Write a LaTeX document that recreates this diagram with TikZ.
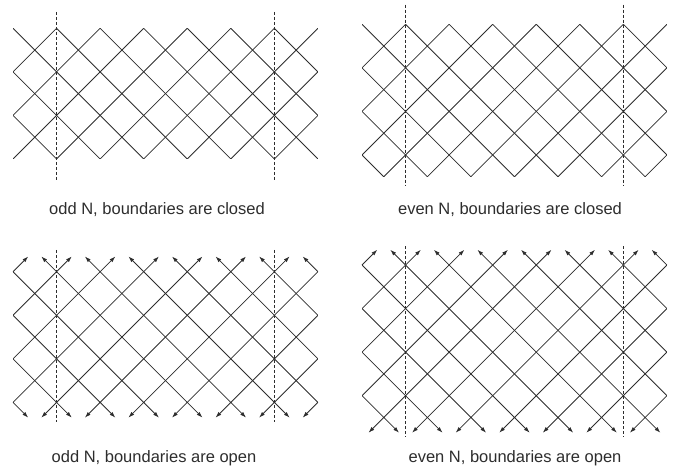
\documentclass[tikz,border=0pt]{standalone}
\usepackage{fontspec}
\setmainfont{Liberation Sans}
\usepackage{tikz}
\usetikzlibrary{arrows.meta}
\usepackage{xcolor}
\definecolor{MeshGray}{RGB}{45, 45, 45}

\tikzset{
  mesh/.style={draw=MeshGray, line width=0.8pt},
  outarrow/.style={mesh, -{Latex[length=6pt, width=4pt]}},
  cutline/.style={draw=MeshGray, line width=0.7pt, dash pattern=on 3pt off 2pt},
  caption/.style={font=\fontsize{16.5}{19}\selectfont, text=MeshGray}
}

\begin{document}
\begin{tikzpicture}[x=1pt, y=-1pt]
  \useasboundingbox (0,0) rectangle (682,472);
  % Diagonal meshes: origin x / origin y / rows / dashed top / dashed bottom
  \foreach \ox/\oy/\H/\dt/\db in {13/28.3/6/-0.75/6.95, 362/24.3/7/-0.9/7.4,
                                  13/271.7/6/-1.0/6.9, 362/265/7/-0.85/7.9}{
    \begin{scope}[shift={(\ox,\oy)}, x=21.78pt, y=-21.78pt]
      \begin{scope}
        \clip (0,0) rectangle (14,\H);
        \foreach \c in {-8,-6,...,14} \draw[mesh] (\c,0) -- ++(8,8);
        \foreach \c in {0,2,...,22} \draw[mesh] (\c,0) -- ++(-8,8);
      \end{scope}
      % Cut lines
      \draw[cutline] (2,\dt) -- (2,\db);
      \draw[cutline] (12,\dt) -- (12,\db);
    \end{scope}
  }
  % Open boundaries, odd N
  \begin{scope}[shift={(13,271.7)}, x=21.78pt, y=-21.78pt]
    \foreach \u in {2,4,...,14} \draw[outarrow] (\u,0) -- ++(-0.7,-0.7);
    \foreach \u in {0,2,...,12} \draw[outarrow] (\u,0) -- ++(0.7,-0.7);
    \foreach \u in {2,4,...,14} \draw[outarrow] (\u,6) -- ++(-0.7,0.7);
    \foreach \u in {0,2,...,12} \draw[outarrow] (\u,6) -- ++(0.7,0.7);
  \end{scope}
  % Open boundaries, even N
  \begin{scope}[shift={(362,265)}, x=21.78pt, y=-21.78pt]
    \foreach \u in {2,4,...,14} \draw[outarrow] (\u,0) -- ++(-0.7,-0.7);
    \foreach \u in {0,2,...,12} \draw[outarrow] (\u,0) -- ++(0.7,-0.7);
    \foreach \u in {1,3,...,13} \draw[outarrow] (\u,7) -- ++(-0.7,0.7);
    \foreach \u in {1,3,...,13} \draw[outarrow] (\u,7) -- ++(0.7,0.7);
  \end{scope}
  % Captions
  \node[caption] (capOddClosed) at (157,210) {odd N, boundaries are closed};
  \node[caption] (capEvenClosed) at (510,210) {even N, boundaries are closed};
  \node[caption] (capOddOpen) at (154,458) {odd N, boundaries are open};
  \node[caption] (capEvenOpen) at (515,458) {even N, boundaries are open};
\end{tikzpicture}
\end{document}
